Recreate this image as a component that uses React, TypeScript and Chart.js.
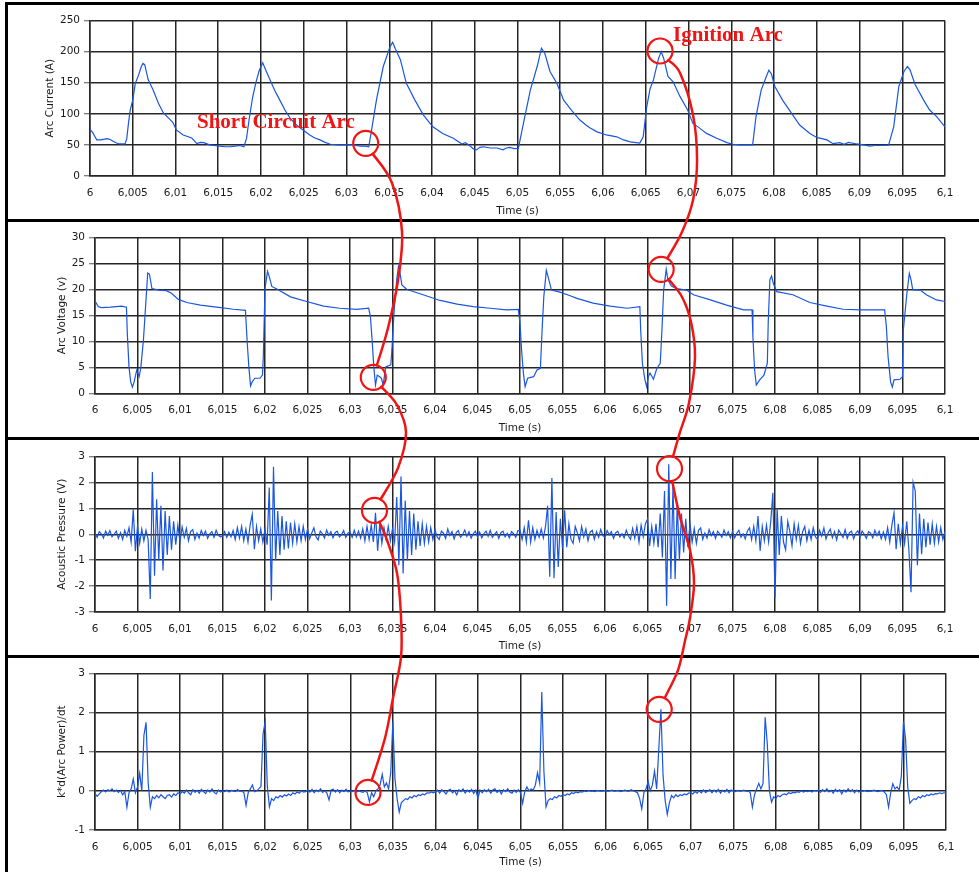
import { useEffect, useRef } from "react";
import { Chart, registerables } from "chart.js";

Chart.register(...registerables);

// ---- time base -------------------------------------------------------------
const T0 = 6;
const SAMPLE_STEP = 0.00025; // sampling interval of the acoustic and power records

const timeTickValues = [
  6, 6.005, 6.01, 6.015, 6.02, 6.025, 6.03, 6.035, 6.04, 6.045, 6.05,
  6.055, 6.06, 6.065, 6.07, 6.075, 6.08, 6.085, 6.09, 6.095, 6.1,
];
const currentTicks = [0, 50, 100, 150, 200, 250];
const voltageTicks = [0, 5, 10, 15, 20, 25, 30];
const acousticTicks = [-3, -2, -1, 0, 1, 2, 3];
const powerTicks = [-1, 0, 1, 2, 3];

// ---- arc current (A) -------------------------------------------------------
const currentTime = [
  6.0, 6.0003, 6.0008, 6.0012, 6.0016, 6.002, 6.0023, 6.0027, 6.0031, 6.0035,
  6.0041, 6.0043, 6.0045, 6.0047, 6.005, 6.0053, 6.0057, 6.006, 6.0062, 6.0064,
  6.0068, 6.0074, 6.008, 6.0086, 6.0092, 6.0097, 6.0101, 6.0109, 6.0119, 6.0125,
  6.0129, 6.0133, 6.014, 6.0152, 6.0158, 6.0164, 6.017, 6.0175, 6.018, 6.0183,
  6.0186, 6.019, 6.0194, 6.0198, 6.0202, 6.0205, 6.0211, 6.0216, 6.0222, 6.0228,
  6.0234, 6.024, 6.0246, 6.0252, 6.0257, 6.0263, 6.0269, 6.0275, 6.0281, 6.029,
  6.03, 6.0308, 6.0316, 6.0322, 6.0326, 6.0329, 6.0335, 6.0343, 6.0351, 6.0354,
  6.0357, 6.0363, 6.037, 6.038, 6.039, 6.0401, 6.0413, 6.0425, 6.0435, 6.0439,
  6.0444, 6.0448, 6.0452, 6.0456, 6.046, 6.0468, 6.0476, 6.0483, 6.0487, 6.0491,
  6.0496, 6.0501, 6.0507, 6.0515, 6.0523, 6.0528, 6.0532, 6.0538, 6.0546, 6.0554,
  6.0563, 6.0573, 6.058, 6.0585, 6.0593, 6.0604, 6.0616, 6.0624, 6.0632, 6.0643,
  6.0647, 6.0651, 6.0655, 6.0659, 6.0665, 6.0668, 6.0671, 6.0676, 6.0682, 6.069,
  6.0699, 6.0705, 6.0713, 6.0721, 6.0733, 6.0745, 6.0752, 6.076, 6.0775, 6.0779,
  6.0785, 6.0791, 6.0794, 6.0797, 6.0801, 6.081, 6.0822, 6.083, 6.0842, 6.085,
  6.0862, 6.0869, 6.0877, 6.0882, 6.0887, 6.0897, 6.0905, 6.0912, 6.0918, 6.0924,
  6.0934, 6.094, 6.0946, 6.0952, 6.0956, 6.0959, 6.0965, 6.0975, 6.0982, 6.099,
  6.1,
];
const currentAmps = [
  75, 70, 58, 58, 59, 60, 59, 56, 53, 51.5,
  51.5, 60, 85, 106, 122, 149, 163, 176, 181, 179,
  155, 138, 117, 101, 93, 86, 74, 66, 61, 52,
  54, 53.6, 50, 48, 47, 47, 48, 49, 47, 60,
  90, 125, 150, 170, 182, 172, 153, 138, 122, 106,
  93, 84, 77, 71, 66, 61, 58, 54, 51, 50,
  50, 50, 48, 48, 47, 71, 122, 176, 208, 215,
  205, 187, 149, 122, 98, 79, 68, 60.6, 51.5, 53.6,
  49, 44, 42, 46, 47, 45, 45, 42, 45, 46,
  44, 44.5, 85, 138, 176, 205.5, 197, 168, 149, 122,
  106, 90, 82, 77, 71, 66, 63, 58, 55, 53,
  63, 110, 140, 154.5, 189, 200, 189, 160, 151.5, 128,
  106, 85, 77, 68.5, 60.6, 53.6, 51, 50, 50, 96,
  138, 160, 170, 164, 144, 122, 98, 82, 68.5, 62,
  58, 52, 53.6, 51, 54, 51.5, 50, 48, 49, 49,
  49.6, 79, 144, 168, 176, 171, 147, 122, 106, 96,
  79,
];

// ---- arc voltage (V) -------------------------------------------------------
const voltageTime = [
  6.0, 6.0004, 6.0008, 6.0018, 6.0025, 6.0031, 6.0037, 6.0038, 6.004, 6.0042,
  6.0044, 6.0046, 6.0049, 6.0052, 6.0054, 6.0057, 6.006, 6.0062, 6.0064, 6.0067,
  6.0075, 6.0084, 6.009, 6.0098, 6.0108, 6.0124, 6.0143, 6.0163, 6.0177, 6.0179,
  6.0181, 6.0183, 6.0185, 6.0188, 6.0194, 6.0197, 6.0198, 6.02, 6.0203, 6.0205,
  6.0208, 6.0215, 6.023, 6.0249, 6.0269, 6.0288, 6.0308, 6.0322, 6.0324, 6.0326,
  6.0328, 6.033, 6.0332, 6.0335, 6.0337, 6.0339, 6.0342, 6.0348, 6.0349, 6.0352,
  6.0355, 6.0357, 6.0358, 6.0361, 6.0367, 6.0386, 6.0406, 6.0426, 6.0445, 6.0465,
  6.0484, 6.0498, 6.05, 6.0502, 6.0504, 6.0506, 6.0509, 6.0516, 6.052, 6.0524,
  6.0526, 6.0528, 6.0531, 6.0533, 6.0537, 6.0547, 6.0559, 6.0567, 6.0586, 6.0606,
  6.0626, 6.0641, 6.0642, 6.0644, 6.0647, 6.0649, 6.0651, 6.0653, 6.0657, 6.0661,
  6.0665, 6.0667, 6.0669, 6.0672, 6.0674, 6.0678, 6.0684, 6.0696, 6.0704, 6.0724,
  6.0743, 6.0763, 6.0773, 6.0774, 6.0776, 6.0778, 6.0782, 6.0787, 6.0791, 6.0792,
  6.0794, 6.0796, 6.0798, 6.0802, 6.0821, 6.0841, 6.0861, 6.088, 6.09, 6.0929,
  6.0931, 6.0933, 6.0936, 6.0938, 6.094, 6.0947, 6.095, 6.0951, 6.0955, 6.0958,
  6.096, 6.0962, 6.0971, 6.0978, 6.099, 6.1,
];
const voltageVolts = [
  17.8, 16.7, 16.5, 16.6, 16.7, 16.8, 16.6, 11.6, 5.1, 2.2,
  1.2, 2.2, 4.4, 3.2, 5.1, 10.3, 18.0, 23.2, 23.0, 20.2,
  19.9, 19.8, 19.3, 18.1, 17.5, 17.0, 16.6, 16.2, 16.0, 10.0,
  5.1, 1.4, 2.2, 2.9, 2.9, 3.5, 7.0, 20.2, 23.5, 22.5,
  20.6, 20.0, 18.6, 17.7, 16.8, 16.4, 16.2, 16.4, 14.8, 10.3,
  5.1, 1.6, 3.5, 3.2, 2.9, 1.6, 5.1, 5.5, 7.7, 16.0,
  22.0, 24.5, 24.1, 20.9, 20.0, 19.0, 17.9, 17.2, 16.7, 16.4,
  16.1, 16.2, 13.5, 8.0, 3.9, 1.3, 2.9, 3.2, 4.5, 4.8,
  12.2, 18.6, 23.7, 22.5, 19.9, 19.5, 18.8, 18.3, 17.4, 16.8,
  16.4, 16.7, 12.2, 5.8, 2.6, 1.3, 3.2, 3.9, 2.7, 4.8,
  5.8, 12.2, 19.9, 23.9, 21.9, 20.7, 20.2, 19.9, 19.0, 18.0,
  17.0, 16.1, 16.1, 10.9, 4.5, 1.6, 2.6, 3.5, 5.8, 13.5,
  21.9, 22.6, 21.2, 19.6, 19.0, 17.5, 16.8, 16.2, 16.1, 16.1,
  12.9, 7.1, 2.2, 1.2, 2.6, 2.7, 3.2, 12.2, 19.0, 23.1,
  21.9, 20.0, 19.9, 19.0, 18.0, 17.7,
];

// ---- acoustic pressure (V), one row per 5 ms ------------------------------
const acousticVolts = [
  0.05, -0.12, 0.1, 0.02, -0.15, 0.12, -0.04, 0.14, -0.1, 0.0, 0.12, -0.16, 0.06, -0.2, 0.15, -0.08, 0.25, -0.3, 0.95, -0.65,
  0.3, -0.35, 0.2, -0.25, 0.15, -0.2, -2.5, 2.4, -1.6, 1.35, -1.0, 1.1, -1.4, 0.9, -0.8, 0.7, -0.6, 0.5, -0.4, 0.35,
  -0.3, 0.28, -0.12, 0.22, -0.25, 0.1, 0.18, -0.2, 0.05, -0.15, 0.14, -0.05, 0.12, -0.16, 0.02, 0.1, -0.12, 0.15, -0.04, -0.1,
  -0.08, 0.1, -0.12, 0.08, -0.1, 0.15, -0.2, 0.25, -0.15, 0.3, -0.25, 0.2, -0.3, 0.35, 0.77, -0.58, 0.3, -0.25, 0.2, -0.3,
  0.2, -0.4, 1.8, -2.56, 2.6, -1.0, 0.9, -0.8, 0.7, -0.6, 0.5, -0.55, 0.45, -0.35, 0.4, -0.3, 0.3, -0.25, 0.3, -0.2,
  0.2, -0.18, 0.05, 0.25, -0.1, -0.22, 0.12, 0.02, -0.15, 0.16, -0.04, 0.1, -0.14, 0.06, 0.12, -0.1, -0.02, 0.14, -0.12, 0.04,
  0.1, -0.12, 0.15, -0.1, 0.12, -0.15, 0.2, -0.25, 0.3, -0.2, 0.35, -0.3, 0.83, -0.64, 0.4, -0.35, 0.25, -0.2, 0.3, -0.25,
  0.2, -0.3, 1.44, -1.2, 2.23, -1.51, 1.3, -1.0, 0.9, -0.8, 0.8, -0.6, 0.5, -0.45, 0.4, -0.35, 0.3, -0.3, 0.25, -0.2,
  0.18, -0.1, -0.2, 0.12, 0.04, -0.16, 0.2, -0.05, 0.1, -0.18, 0.06, 0.14, -0.12, -0.02, 0.16, -0.08, 0.1, -0.15, 0.02, 0.12,
  -0.1, 0.08, -0.14, 0.02, 0.12, -0.08, 0.15, -0.12, 0.0, 0.1, -0.16, 0.06, 0.12, -0.1, 0.04, -0.14, 0.1, 0.02, -0.12, 0.14,
  0.15, -0.2, 0.25, -0.3, 0.54, -0.3, 0.25, -0.2, 0.15, -0.12, 0.2, -0.15, 0.3, 1.1, -1.64, 2.17, -1.7, 0.86, -1.26, 0.6,
  -0.55, 0.92, -0.5, 0.4, -0.2, -0.35, 0.3, 0.05, -0.25, 0.3, -0.1, 0.2, -0.25, 0.08, 0.15, -0.2, 0.1, -0.12, 0.18, -0.05,
  -0.12, 0.14, -0.02, 0.1, -0.16, 0.05, 0.12, -0.1, 0.02, -0.14, 0.16, -0.06, -0.2, 0.22, -0.15, 0.3, -0.3, 0.35, -0.1, 0.4,
  0.58, -0.45, 0.3, -0.35, 0.4, -0.5, 0.8, -0.9, 1.67, -2.76, 2.7, -1.73, 1.9, -1.73, 1.2, -1.0, 0.8, -0.7, 0.6, -0.5,
  0.4, -0.3, 0.22, -0.35, 0.15, 0.25, -0.2, 0.05, -0.15, 0.18, -0.06, 0.1, -0.16, 0.12, 0.02, -0.12, 0.16, -0.05, 0.1, -0.14,
  0.1, -0.14, 0.04, 0.15, -0.12, 0.02, -0.18, 0.12, 0.25, -0.2, 0.3, -0.25, 0.7, -0.64, 0.3, -0.25, 0.35, -0.3, 0.5, 1.6,
  -2.44, 1.0, -0.8, 0.7, -0.3, -0.6, 0.5, 0.1, -0.45, 0.4, -0.2, 0.35, -0.35, 0.1, 0.3, -0.25, 0.15, -0.2, 0.25, -0.1,
  -0.2, 0.15, -0.08, 0.24, -0.18, 0.05, 0.2, -0.14, 0.1, -0.22, 0.16, 0.02, -0.12, 0.18, -0.16, 0.06, 0.12, -0.18, 0.04, 0.14,
  -0.12, 0.12, 0.0, -0.16, 0.1, 0.04, -0.14, 0.15, -0.06, 0.12, -0.18, 0.08, -0.2, 0.25, -0.3, 0.35, 0.83, -0.58, 0.4, -0.35,
  0.3, -0.35, 0.5, -0.6, -2.24, 2.0, 1.67, -1.2, 0.8, -0.77, 0.6, -0.5, 0.45, -0.4, 0.4, -0.35, 0.3, -0.3, 0.25, -0.2,
  0.1,
];

// ---- k*d(arc power)/dt, one row per 5 ms ----------------------------------
const powerRate = [
  -0.07, -0.14, -0.08, -0.02, 0.02, -0.03, 0.03, 0.0, 0.05, -0.02, 0.02, -0.04, 0.01, -0.1, -0.02, -0.42, -0.05, 0.05, 0.3, -0.05,
  0.1, 0.45, 0.0, 1.42, 1.75, 0.2, -0.42, -0.15, -0.2, -0.12, -0.18, -0.1, -0.15, -0.2, -0.12, -0.1, -0.16, -0.08, -0.12, -0.05,
  -0.08, -0.02, -0.06, 0.02, -0.05, -0.1, 0.03, -0.04, 0.01, -0.06, 0.04, -0.02, -0.07, 0.02, -0.03, 0.05, -0.04, -0.08, 0.02, -0.03,
  0.0, -0.02, 0.02, -0.03, 0.01, 0.0, -0.02, 0.03, -0.01, 0.0, -0.05, -0.37, -0.05, 0.05, 0.15, -0.02, 0.0, 0.05, 0.11, 1.46,
  1.77, 0.1, -0.41, -0.2, -0.25, -0.15, -0.18, -0.12, -0.16, -0.1, -0.13, -0.08, -0.12, -0.05, -0.08, -0.03, -0.06, 0.0, -0.03, -0.02,
  0.02, -0.03, 0.04, -0.05, 0.02, -0.02, 0.05, -0.04, 0.0, -0.06, -0.23, 0.02, 0.04, -0.03, 0.03, -0.05, 0.02, -0.02, 0.04, -0.03,
  0.0, -0.02, 0.01, -0.03, 0.0, -0.02, -0.04, 0.0, -0.05, -0.28, -0.05, -0.15, 0.0, 0.05, 0.15, 0.42, 0.1, 0.2, 0.05, 0.46,
  1.77, 0.3, -0.2, -0.54, -0.3, -0.25, -0.2, -0.22, -0.15, -0.18, -0.12, -0.15, -0.1, -0.12, -0.08, -0.1, -0.05, -0.06, -0.03, -0.05,
  -0.03, 0.02, -0.06, 0.03, -0.02, -0.08, 0.01, 0.04, -0.05, 0.0, -0.1, 0.03, -0.02, 0.05, -0.06, 0.02, -0.03, 0.04, -0.07, 0.02,
  -0.19, 0.02, -0.05, 0.03, -0.02, 0.04, -0.06, 0.02, 0.05, -0.04, 0.02, -0.08, 0.03, -0.02, 0.05, -0.03, -0.06, 0.02, -0.04, 0.03,
  -0.05, -0.32, -0.02, 0.1, 0.0, 0.05, 0.02, 0.15, 0.46, 0.2, 2.52, 0.5, -0.41, -0.25, -0.2, -0.22, -0.15, -0.18, -0.12, -0.14,
  -0.1, -0.12, -0.08, -0.1, -0.05, -0.07, -0.03, -0.05, -0.02, -0.03, 0.0, -0.02, 0.01, -0.01, 0.0, -0.02, 0.01, 0.0, -0.01, 0.0,
  0.01, -0.01, 0.0, 0.02, -0.01, 0.0, 0.01, -0.02, 0.0, 0.02, 0.0, -0.01, 0.03, 0.0, -0.02, -0.05, -0.2, -0.46, -0.05, 0.05,
  0.24, 0.0, 0.15, 0.5, 0.05, 1.07, 2.08, 0.4, -0.25, -0.6, -0.3, -0.12, -0.18, -0.1, -0.15, -0.1, -0.12, -0.08, -0.1, -0.06,
  -0.05, -0.08, -0.02, -0.06, 0.0, -0.05, 0.02, -0.04, -0.01, 0.03, -0.05, 0.02, -0.03, 0.04, -0.06, 0.01, -0.03, 0.04, -0.05, 0.02,
  0.0, -0.02, 0.01, -0.01, 0.0, 0.02, -0.01, 0.0, -0.05, -0.42, -0.1, 0.05, 0.19, 0.05, 0.19, 1.88, 1.2, 0.0, -0.29, -0.15,
  -0.2, -0.12, -0.15, -0.1, -0.08, -0.1, -0.05, -0.07, -0.04, -0.05, -0.02, -0.04, 0.0, -0.03, -0.01, -0.02, 0.0, -0.03, 0.01, -0.01,
  0.02, -0.04, 0.03, -0.02, 0.05, -0.03, 0.01, -0.06, 0.04, -0.02, 0.03, -0.08, 0.02, -0.03, 0.05, -0.02, 0.03, -0.05, 0.02, -0.03,
  0.0, -0.01, 0.01, -0.02, 0.0, -0.01, 0.02, 0.0, -0.02, 0.0, 0.01, -0.03, -0.1, -0.42, -0.05, 0.18, 0.05, 0.1, 0.02, 0.37,
  1.77, 1.33, 0.1, -0.32, -0.25, -0.2, -0.22, -0.15, -0.18, -0.12, -0.15, -0.1, -0.12, -0.08, -0.1, -0.07, -0.08, -0.05, -0.07, -0.05,
  -0.06,
];

// ---- callouts: [panel, time, value] ---------------------------------------
type Ref = [number, number, number];
const shortCircuitMarks: Ref[] = [
  [0, 6.03225, 52.5], [1, 6.03274, 3.08], [2, 6.03288, 0.92], [3, 6.03208, -0.04],
];
const shortCircuitRoute: Ref[][] = [
  [[0, 6.03532, -11.25], [1, 6.03612, 31.1], [1, 6.03565, 21.8], [1, 6.03447, 12.6]],
  [[1, 6.03553, -2.26], [2, 6.03659, 3.94], [2, 6.03565, 2.56]],
  [[2, 6.03435, -0.22], [2, 6.03553, -1.5], [2, 6.036, -3.19], [3, 6.03596, 3.41], [3, 6.03502, 2.37], [3, 6.03408, 1.35]],
];
const ignitionMarks: Ref[] = [
  [0, 6.06667, 201], [1, 6.06661, 23.9], [2, 6.06759, 2.53], [3, 6.0663, 2.08],
];
const ignitionRoute: Ref[][] = [
  [[0, 6.06901, 165.5], [0, 6.07053, 98], [0, 6.071, 25.7], [0, 6.07053, -38.6], [1, 6.06906, 31.1]],
  [[1, 6.06906, 18.57], [1, 6.07012, 13.75], [1, 6.07059, 7.0], [1, 6.06988, -1.87], [2, 6.06882, 3.94]],
  [[2, 6.06882, 0.67], [2, 6.07, -0.61], [2, 6.07047, -1.88], [2, 6.07, -3.23], [3, 6.06933, 3.83], [3, 6.06851, 3.08]],
];
const calloutLabels: { text: string; at: Ref }[] = [
  { text: "Short Circuit Arc", at: [0, 6.01251, 77.1] },
  { text: "Ignition Arc", at: [0, 6.06819, 217] },
];

// ---- layout ----------------------------------------------------------------
const PAGE_W = 979;
const PAGE_H = 872;
const CANVAS_LEFT = 8;
const CANVAS_W = PAGE_W - CANVAS_LEFT;
const GRID = "#262626";
const TRACE = "#1a56e0";
const CALLOUT = "#f01515";
const FONT = { family: '"DejaVu Sans", Verdana, sans-serif', size: 10.5 };
const LH = FONT.size * 1.2;

type Pt = { x: number; y: number };
type Panel = {
  title: string;
  points: Pt[];
  yTicks: number[];
  top: number;
  height: number;
  plotTop: number;
  plotBottom: number;
  plotLeft: number;
  plotRight: number;
  timeTitleY: number;
  yTitleX: number;
};

const pairs = (t: number[], v: number[]): Pt[] => t.map((x, i) => ({ x, y: v[i] }));
const sampled = (v: number[]): Pt[] => v.map((y, i) => ({ x: T0 + i * SAMPLE_STEP, y }));

const panels: Panel[] = [
  {
    title: "Arc Current (A)", points: pairs(currentTime, currentAmps), yTicks: currentTicks,
    top: 5, height: 214, plotTop: 20.5, plotBottom: 176, plotLeft: 90, plotRight: 945, timeTitleY: 211, yTitleX: 50.5,
  },
  {
    title: "Arc Voltage (v)", points: pairs(voltageTime, voltageVolts), yTicks: voltageTicks,
    top: 222, height: 215, plotTop: 237.7, plotBottom: 393.3, plotLeft: 95, plotRight: 945, timeTitleY: 428, yTitleX: 62,
  },
  {
    title: "Acoustic Pressure (V)", points: sampled(acousticVolts), yTicks: acousticTicks,
    top: 440, height: 215, plotTop: 456.5, plotBottom: 612, plotLeft: 95, plotRight: 945, timeTitleY: 646, yTitleX: 62,
  },
  {
    title: "k*d(Arc Power)/dt", points: sampled(powerRate), yTicks: powerTicks,
    top: 658, height: 214, plotTop: 673.3, plotBottom: 830, plotLeft: 95, plotRight: 946, timeTitleY: 862, yTitleX: 62.5,
  },
];

const fmtTime = (v: number) => String(Number(v.toFixed(3))).replace(".", ",");

function makeConfig(p: Panel): any {
  const xHeight = p.timeTitleY - p.plotBottom + LH / 2;
  return {
    type: "line",
    data: {
      datasets: [
        {
          data: p.points,
          borderColor: TRACE,
          borderWidth: 1.2,
          pointRadius: 0,
          tension: 0,
          fill: false,
        },
      ],
    },
    options: {
      animation: false,
      responsive: false,
      events: [],
      parsing: false,
      layout: {
        padding: {
          left: 0,
          top: p.plotTop - p.top,
          right: PAGE_W - p.plotRight,
          bottom: p.top + p.height - p.plotBottom - xHeight,
        },
      },
      plugins: { legend: { display: false }, tooltip: { enabled: false } },
      scales: {
        x: {
          type: "linear",
          min: timeTickValues[0],
          max: timeTickValues[timeTickValues.length - 1],
          afterBuildTicks: (s: any) => {
            s.ticks = timeTickValues.map((value) => ({ value }));
          },
          afterFit: (s: any) => {
            s.height = xHeight;
          },
          grid: { color: GRID, lineWidth: 1.5, drawTicks: false },
          border: { display: true, color: GRID, width: 1.5 },
          ticks: {
            autoSkip: false,
            maxRotation: 0,
            padding: 11,
            color: "#1a1a1a",
            font: FONT,
            callback: (v: number) => fmtTime(v),
          },
          title: { display: true, text: "Time (s)", color: "#1a1a1a", font: FONT, padding: 0 },
        },
        y: {
          type: "linear",
          min: p.yTicks[0],
          max: p.yTicks[p.yTicks.length - 1],
          afterBuildTicks: (s: any) => {
            s.ticks = p.yTicks.map((value) => ({ value }));
          },
          afterFit: (s: any) => {
            s.width = p.plotLeft - CANVAS_LEFT;
          },
          grid: { color: GRID, lineWidth: 1.5, drawTicks: true, tickLength: 6, tickColor: "#555", tickWidth: 1 },
          border: { display: true, color: GRID, width: 1.5 },
          ticks: { padding: 4, color: "#1a1a1a", font: FONT },
          title: {
            display: true,
            text: p.title,
            color: "#1a1a1a",
            font: FONT,
            padding: { top: p.yTitleX - CANVAS_LEFT - LH / 2, bottom: 0 },
          },
        },
      },
    },
  };
}

// Red call-outs linking the same arc event across all four records.
function drawCallouts(canvas: HTMLCanvasElement, charts: Chart[]) {
  const ctx = canvas.getContext("2d");
  if (!ctx) return;
  ctx.clearRect(0, 0, canvas.width, canvas.height);
  const R = 12.5;
  const toPage = ([p, t, v]: Ref): [number, number] => {
    const c = charts[p];
    return [CANVAS_LEFT + c.scales.x.getPixelForValue(t), panels[p].top + c.scales.y.getPixelForValue(v)];
  };
  const edge = (c: [number, number], toward: [number, number]): [number, number] => {
    const dx = toward[0] - c[0];
    const dy = toward[1] - c[1];
    const d = Math.hypot(dx, dy) || 1;
    return [c[0] + (dx / d) * R, c[1] + (dy / d) * R];
  };
  const spline = (pts: [number, number][]) => {
    ctx.beginPath();
    ctx.moveTo(pts[0][0], pts[0][1]);
    for (let i = 0; i < pts.length - 1; i++) {
      const p0 = pts[Math.max(0, i - 1)];
      const p1 = pts[i];
      const p2 = pts[i + 1];
      const p3 = pts[Math.min(pts.length - 1, i + 2)];
      ctx.bezierCurveTo(
        p1[0] + (p2[0] - p0[0]) / 6, p1[1] + (p2[1] - p0[1]) / 6,
        p2[0] - (p3[0] - p1[0]) / 6, p2[1] - (p3[1] - p1[1]) / 6,
        p2[0], p2[1],
      );
    }
    ctx.stroke();
  };

  ctx.strokeStyle = CALLOUT;
  ctx.lineCap = "round";
  ctx.lineJoin = "round";

  const groups: [Ref[], Ref[][]][] = [
    [shortCircuitMarks, shortCircuitRoute],
    [ignitionMarks, ignitionRoute],
  ];
  for (const [marks, route] of groups) {
    const centers = marks.map(toPage);
    ctx.lineWidth = 2.2;
    for (const c of centers) {
      ctx.beginPath();
      ctx.arc(c[0], c[1], R, 0, Math.PI * 2);
      ctx.stroke();
    }
    ctx.lineWidth = 2.5;
    route.forEach((leg, i) => {
      const mid = leg.map(toPage);
      const a = centers[i];
      const b = centers[i + 1];
      spline([edge(a, mid[0]), ...mid, edge(b, mid[mid.length - 1])]);
    });
  }

  ctx.fillStyle = CALLOUT;
  ctx.font = 'bold 21px "Liberation Serif", "DejaVu Serif", serif';
  ctx.textBaseline = "alphabetic";
  for (const l of calloutLabels) {
    const [x, y] = toPage(l.at);
    ctx.fillText(l.text, x, y);
  }
}

export default function App() {
  const canvasRefs = useRef<(HTMLCanvasElement | null)[]>([]);
  const overlayRef = useRef<HTMLCanvasElement | null>(null);

  useEffect(() => {
    const charts = panels.map((p, i) => new Chart(canvasRefs.current[i] as HTMLCanvasElement, makeConfig(p)));
    if (overlayRef.current) drawCallouts(overlayRef.current, charts);
    return () => charts.forEach((c) => c.destroy());
  }, []);

  const bar = (left: number, top: number, width: number, height: number) => ({
    position: "absolute" as const, left, top, width, height, background: "#000",
  });

  return (
    <div style={{ position: "absolute", left: 0, top: 0, width: PAGE_W, height: PAGE_H, background: "#fff", overflow: "hidden" }}>
      {panels.map((p, i) => (
        <canvas
          key={i}
          ref={(el) => {
            canvasRefs.current[i] = el;
          }}
          width={CANVAS_W}
          height={p.height}
          style={{ position: "absolute", left: CANVAS_LEFT, top: p.top, width: CANVAS_W, height: p.height }}
        />
      ))}
      <div style={bar(5, 2, PAGE_W - 5, 3)} />
      <div style={bar(5, 2, 3, PAGE_H - 2)} />
      <div style={bar(5, 219, PAGE_W - 5, 3)} />
      <div style={bar(5, 437, PAGE_W - 5, 3)} />
      <div style={bar(5, 655, PAGE_W - 5, 3)} />
      <canvas
        ref={overlayRef}
        width={PAGE_W}
        height={PAGE_H}
        style={{ position: "absolute", left: 0, top: 0, width: PAGE_W, height: PAGE_H, pointerEvents: "none" }}
      />
    </div>
  );
}
